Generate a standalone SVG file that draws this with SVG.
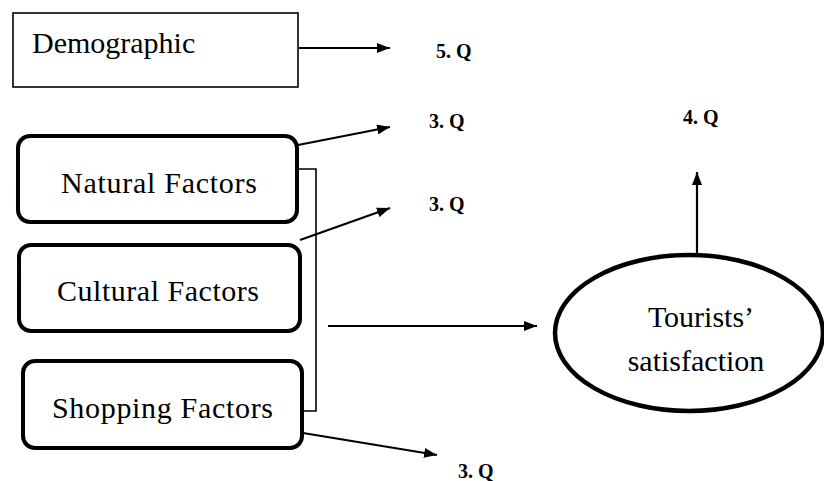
<svg xmlns="http://www.w3.org/2000/svg" width="824" height="481" viewBox="0 0 824 481">
<style>
  .box { fill: #ffffff; stroke: #000000; stroke-width: 4; }
  .thinbox { fill: #ffffff; stroke: #000000; stroke-width: 1.6; }
  .lbl { font-family: "Liberation Serif", "Times New Roman", serif; font-size: 30px; fill: #000000; }
  .q { font-family: "Liberation Serif", "Times New Roman", serif; font-size: 20px; font-weight: bold; fill: #000000; }
  .arrow { stroke: #000000; stroke-width: 2.2; fill: none; marker-end: url(#ah); }
  .bracket { stroke: #000000; stroke-width: 1.6; fill: none; }
</style>
<defs>
  <marker id="ah" markerUnits="userSpaceOnUse" markerWidth="13" markerHeight="10" refX="13" refY="5" orient="auto">
    <path d="M0,0 L13,5 L0,10 z" fill="#000000"/>
  </marker>
</defs>
<rect x="0" y="0" width="824" height="481" fill="#ffffff"/>

<g id="node-demographic">
  <rect class="thinbox" x="13" y="13" width="285" height="74"/>
  <text class="lbl" x="32" y="53">Demographic</text>
</g>
<g id="node-natural">
  <rect class="box" x="18" y="136" width="279" height="86" rx="12"/>
  <text class="lbl" x="61" y="193" textLength="196" lengthAdjust="spacing">Natural Factors</text>
</g>
<g id="node-cultural">
  <rect class="box" x="19" y="245" width="281" height="86" rx="12"/>
  <text class="lbl" x="57" y="301" textLength="202" lengthAdjust="spacing">Cultural Factors</text>
</g>
<g id="node-shopping">
  <rect class="box" x="23" y="361" width="279" height="87" rx="12"/>
  <text class="lbl" x="52" y="418" textLength="221" lengthAdjust="spacing">Shopping Factors</text>
</g>
<g id="node-satisfaction">
  <ellipse cx="689" cy="333" rx="134" ry="78" fill="#ffffff" stroke="#000000" stroke-width="4.5"/>
  <text class="lbl" x="701" y="327" text-anchor="middle">Tourists’</text>
  <text class="lbl" x="696" y="371" text-anchor="middle">satisfaction</text>
</g>

<g id="labels">
  <text class="q" x="436" y="58">5. Q</text>
  <text class="q" x="429" y="128">3. Q</text>
  <text class="q" x="429" y="211">3. Q</text>
  <text class="q" x="458" y="478">3. Q</text>
  <text class="q" x="683" y="124">4. Q</text>
</g>

<g id="connectors">
  <line class="arrow" x1="299" y1="48" x2="390" y2="48"/>
  <line class="arrow" x1="298" y1="145" x2="390" y2="127"/>
  <line class="arrow" x1="300" y1="240" x2="390" y2="208"/>
  <line class="arrow" x1="303" y1="433" x2="437" y2="455"/>
  <polyline class="bracket" points="299,169 316,169 316,411 304,411"/>
  <line class="arrow" x1="328" y1="326" x2="537" y2="326"/>
  <line class="arrow" x1="697" y1="253" x2="697" y2="172"/>
</g>
</svg>
